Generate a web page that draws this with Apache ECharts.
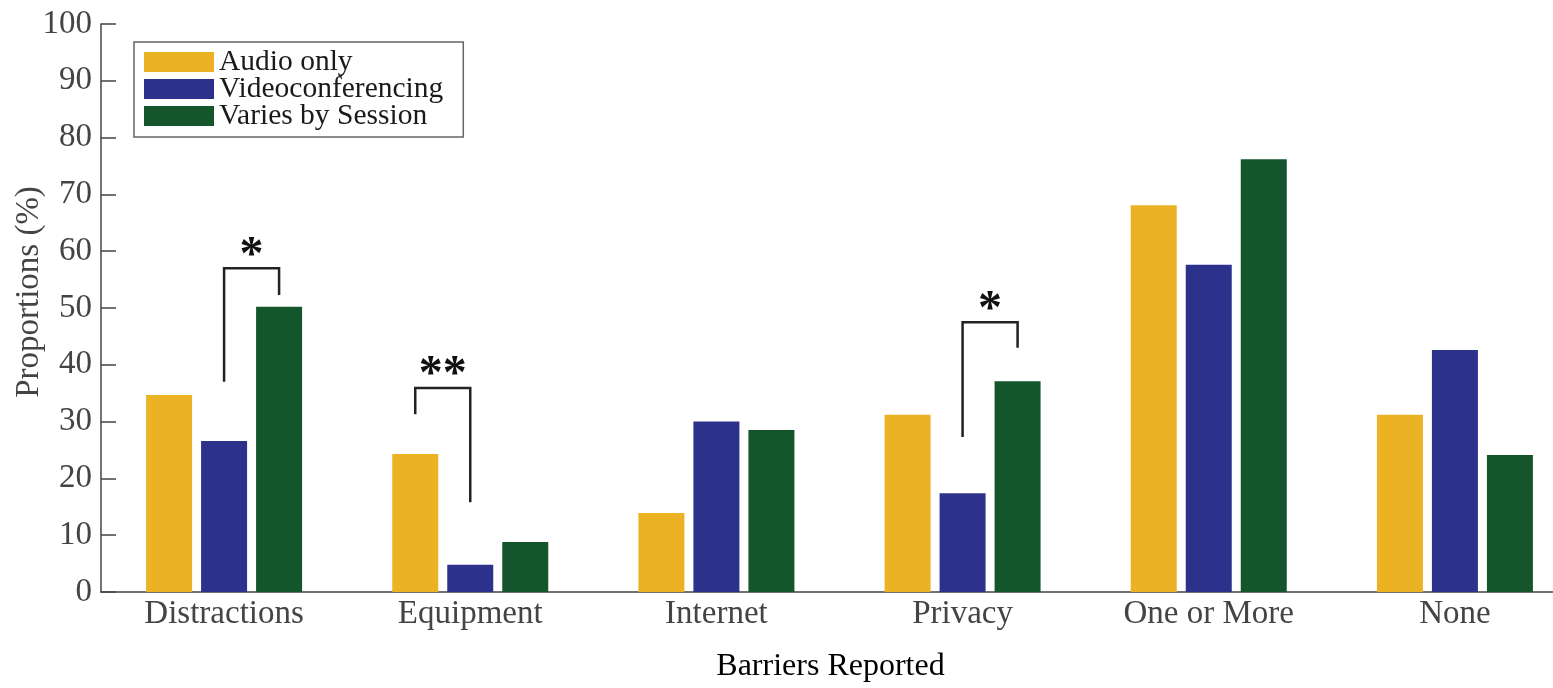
<!DOCTYPE html>
<html>
<head>
<meta charset="utf-8">
<title>Barriers Reported</title>
<script src="https://cdn.jsdelivr.net/npm/echarts@6/dist/echarts.min.js"></script>
<style>
	html, body { margin: 0; padding: 0; background: #fff; }
	#chart { width: 1553px; height: 688px; }
</style>
</head>
<body>
<div id="chart"></div>
<script>
// data
var categories = ['Distractions', 'Equipment', 'Internet', 'Privacy', 'One or More', 'None'];
var audioOnly = [34.7, 24.3, 13.9, 31.2, 68.1, 31.2];
var videoConf = [26.6, 4.8, 30.0, 17.4, 57.6, 42.6];
var variesBySession = [50.2, 8.8, 28.5, 37.1, 76.2, 24.1];
var seriesNames = ['Audio only', 'Videoconferencing', 'Varies by Session'];
var yTicks = [0, 10, 20, 30, 40, 50, 60, 70, 80, 90, 100];

// significance brackets: category, left bar, right bar, top, left leg end, right leg end, mark
var sigCats = [0, 1, 3];
var sigLeftBar = [1, 0, 1];
var sigRightBar = [2, 1, 2];
var sigTop = [57.0, 35.9, 47.5];
var sigLeftEnd = [37.0, 31.3, 27.3];
var sigRightEnd = [52.3, 15.8, 43.0];
var sigMarks = ['*', '**', '*'];

var colors = ['#EBB224', '#2C328C', '#15552B'];
var BAR_W = 46;
var BAR_GAP = 9;
var FONT = '"Liberation Serif", "DejaVu Serif", serif';

var myChart = echarts.init(document.getElementById('chart'));

function renderBracket(params, api) {
	var i = params.dataIndex;
	var cat = api.value(0);
	var pitch = BAR_W + BAR_GAP;
	var top = api.coord([cat, api.value(3)]);
	var xl = top[0] + (api.value(1) - 1) * pitch;
	var xr = top[0] + (api.value(2) - 1) * pitch;
	var yl = api.coord([cat, api.value(4)])[1];
	var yr = api.coord([cat, api.value(5)])[1];
	return {
		type: 'group',
		children: [{
			type: 'polyline',
			shape: { points: [[xl, yl], [xl, top[1]], [xr, top[1]], [xr, yr]] },
			style: { stroke: '#222', lineWidth: 2.5, fill: null }
		}, {
			type: 'text',
			style: {
				text: sigMarks[i],
				x: (xl + xr) / 2,
				y: top[1] + 12,
				align: 'center',
				verticalAlign: 'bottom',
				fontFamily: FONT,
				fontWeight: 'bold',
				fontSize: 48,
				fill: '#111'
			}
		}]
	};
}

var bracketData = sigCats.map(function (c, i) {
	return [c, sigLeftBar[i], sigRightBar[i], sigTop[i], sigLeftEnd[i], sigRightEnd[i]];
});

var option = {
	animation: false,
	backgroundColor: '#fff',
	color: colors,
	textStyle: { fontFamily: FONT },
	grid: {
		left: 101,
		right: -25,
		top: 24,
		bottom: 96,
		containLabel: false,
		outerBoundsMode: 'none'
	},
	legend: {
		orient: 'vertical',
		left: 134,
		top: 42,
		data: seriesNames,
		icon: 'rect',
		itemWidth: 70,
		itemHeight: 20,
		itemGap: -3,
		padding: [5, 20, 6, 10],
		borderColor: '#666',
		borderWidth: 1.5,
		backgroundColor: '#fff',
		borderRadius: 0,
		textStyle: { fontFamily: FONT, fontSize: 29.5, color: '#1a1a1a' }
	},
	xAxis: {
		type: 'category',
		data: categories,
		name: 'Barriers Reported',
		nameLocation: 'middle',
		nameGap: 59,
		nameMoveOverlap: false,
		nameTextStyle: { fontFamily: FONT, fontSize: 32, color: '#000', padding: [0, 18, 0, 0] },
		axisLine: { show: true, lineStyle: { color: '#444', width: 1.5 } },
		axisTick: { show: true, inside: true, length: 15, alignWithLabel: true, lineStyle: { color: '#444', width: 1 } },
		axisLabel: { fontFamily: FONT, fontSize: 33, color: '#444', margin: 6 },
		splitLine: { show: false }
	},
	yAxis: {
		type: 'value',
		min: yTicks[0],
		max: yTicks[yTicks.length - 1],
		interval: 10,
		name: 'Proportions (%)',
		nameLocation: 'middle',
		nameGap: 55,
		nameMoveOverlap: false,
		nameTextStyle: { fontFamily: FONT, fontSize: 33, color: '#444', padding: [0, 0, 0, 32] },
		axisLine: { show: true, lineStyle: { color: '#444', width: 1.5 } },
		axisTick: { show: true, inside: true, length: 15, lineStyle: { color: '#444', width: 1.5 } },
		axisLabel: { fontFamily: FONT, fontSize: 33, color: '#444', margin: 9 },
		splitLine: { show: false }
	},
	series: [
		{ name: seriesNames[0], type: 'bar', data: audioOnly, barWidth: BAR_W, barGap: (BAR_GAP / BAR_W * 100) + '%', itemStyle: { color: colors[0] } },
		{ name: seriesNames[1], type: 'bar', data: videoConf, barWidth: BAR_W, barGap: (BAR_GAP / BAR_W * 100) + '%', itemStyle: { color: colors[1] } },
		{ name: seriesNames[2], type: 'bar', data: variesBySession, barWidth: BAR_W, barGap: (BAR_GAP / BAR_W * 100) + '%', itemStyle: { color: colors[2] } },
		{ name: 'sig', type: 'custom', renderItem: renderBracket, data: bracketData, z: 5, silent: true }
	]
};

myChart.setOption(option, true);
</script>
</body>
</html>
